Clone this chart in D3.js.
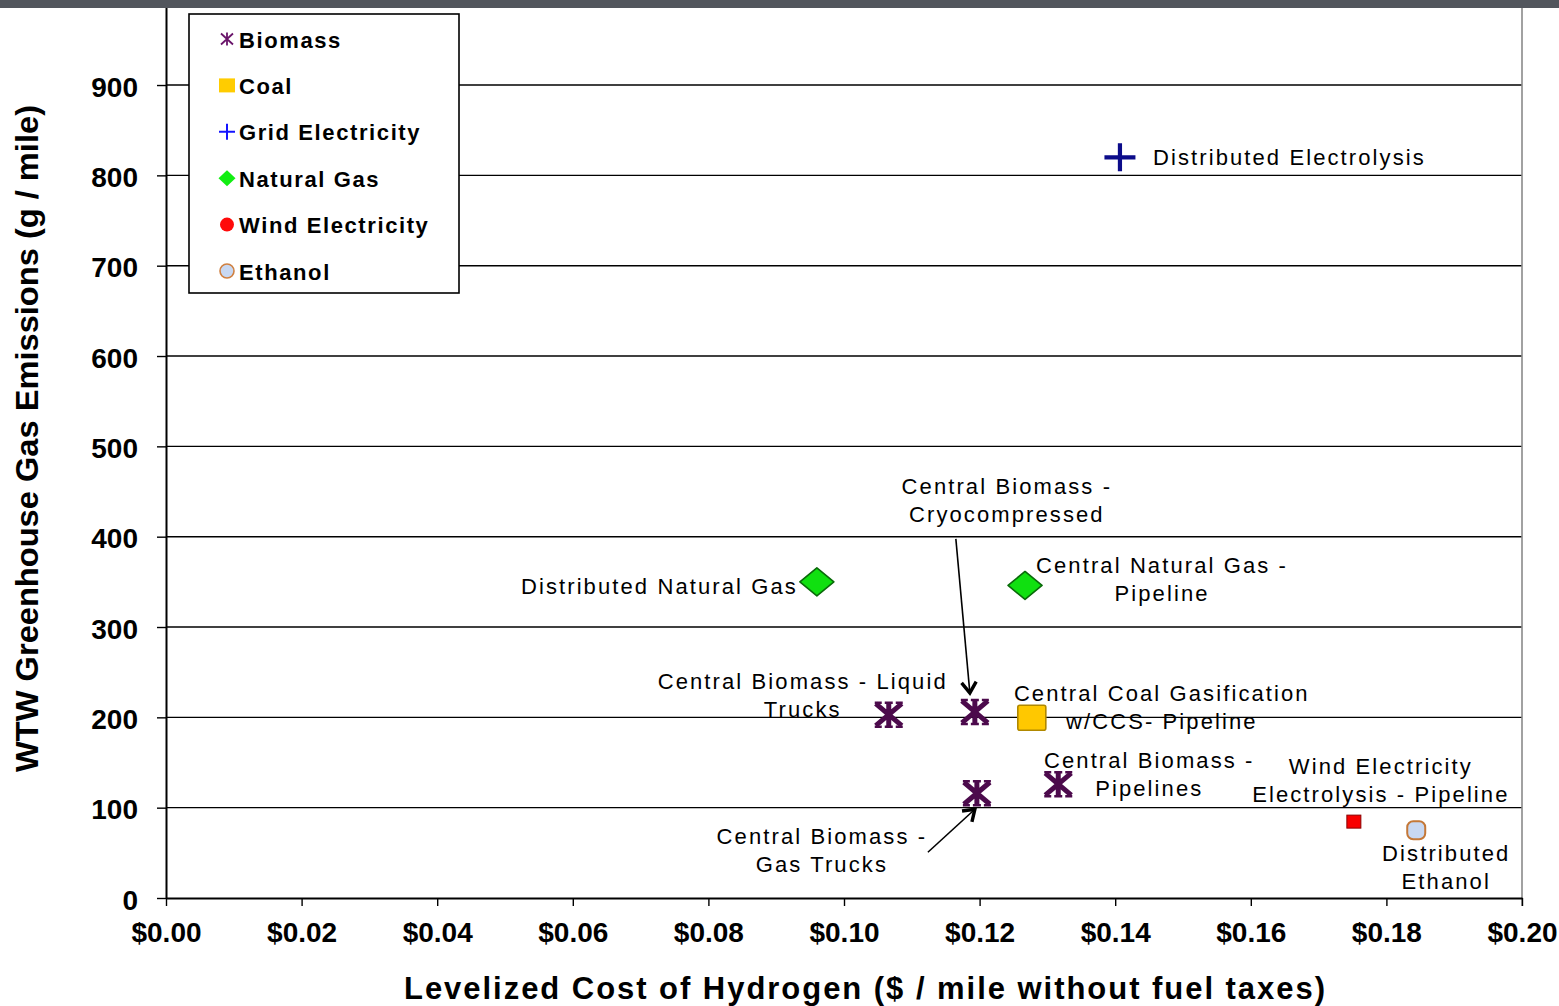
<!DOCTYPE html>
<html>
<head>
<meta charset="utf-8">
<script src="https://cdn.jsdelivr.net/npm/d3@7"></script>
<style>
  body { margin: 0; background: #ffffff; }
  svg { display: block; }
</style>
</head>
<body>
<svg id="chart" width="1559" height="1006"></svg>
<script>
// ---- Data ----------------------------------------------------------------
const seriesNames = ["Biomass", "Coal", "Grid Electricity", "Natural Gas", "Wind Electricity", "Ethanol"];

const pathwayLabels = [
  "Distributed Electrolysis",
  "Distributed Natural Gas",
  "Central Natural Gas -\nPipeline",
  "Central Biomass -\nCryocompressed",
  "Central Biomass - Liquid\nTrucks",
  "Central Coal Gasification\nw/CCS- Pipeline",
  "Central Biomass -\nPipelines",
  "Central Biomass -\nGas Trucks",
  "Wind Electricity\nElectrolysis - Pipeline",
  "Distributed\nEthanol"
];
const pathwaySeries = [
  "Grid Electricity", "Natural Gas", "Natural Gas", "Biomass", "Biomass",
  "Coal", "Biomass", "Biomass", "Wind Electricity", "Ethanol"
];
// Levelized cost of hydrogen, $ / mile (without fuel taxes)
const pathwayCost = [0.1407, 0.0960, 0.1267, 0.1193, 0.1066, 0.1277, 0.1316, 0.1196, 0.1752, 0.1844];
// Well-to-wheels greenhouse gas emissions, g / mile
const pathwayGhg = [820, 350, 346, 206, 203, 199, 126, 116, 84, 75];

const xTickValues = [0, 0.02, 0.04, 0.06, 0.08, 0.10, 0.12, 0.14, 0.16, 0.18, 0.20];
const yTickValues = [0, 100, 200, 300, 400, 500, 600, 700, 800, 900];

// ---- Label placement (offsets from each point, in px) -------------------
const labelLayout = [
  { dx: 33,   dy: 8,    anchor: "start" },
  { dx: -19,  dy: 12,   anchor: "end" },
  { dx: 137,  dy: -12,  anchor: "middle" },
  { dx: 32,   dy: -218, anchor: "middle" },
  { dx: -86,  dy: -26,  anchor: "middle" },
  { dx: 130,  dy: -17,  anchor: "middle" },
  { dx: 91,   dy: -16,  anchor: "middle" },
  { dx: -155, dy: 51,   anchor: "middle" },
  { dx: 27,   dy: -48,  anchor: "middle" },
  { dx: 30,   dy: 31,   anchor: "middle" }
];
// Leader arrows: [pointIndex, start offset, tip offset]
const arrowLayout = [
  { i: 3, sx: -19, sy: -173, ex: -5, ey: -19 },
  { i: 7, sx: -49, sy: 59,   ex: -2, ey: 16 }
];

// ---- Setup ---------------------------------------------------------------
const W = 1559, H = 1006;
const FONT = '"Liberation Sans", Arial, Helvetica, sans-serif';
const svg = d3.select("#chart");

const x = d3.scaleLinear().domain([0, 0.20]).range([166, 1522]);
const y = d3.scaleLinear().domain([0, 1000]).range([898, -5.3]);

// Horizontal gridlines
svg.append("g").selectAll("line")
  .data(yTickValues.filter(v => v > 0))
  .join("line")
  .attr("x1", x(0)).attr("x2", x(0.20))
  .attr("y1", d => y(d)).attr("y2", d => y(d))
  .attr("stroke", "#000").attr("stroke-width", 1.4);

// Right frame edge
svg.append("line")
  .attr("x1", x(0.20)).attr("x2", x(0.20))
  .attr("y1", 0).attr("y2", y(0) + 8)
  .attr("stroke", "#8a8a8a").attr("stroke-width", 1.6);

// Y axis
const yAxis = svg.append("g")
  .attr("transform", `translate(${x(0)},0)`)
  .call(d3.axisLeft(y).tickValues(yTickValues).tickSize(9).tickSizeOuter(0));
yAxis.select(".domain").attr("stroke", "#000").attr("stroke-width", 2);
yAxis.selectAll(".tick line").attr("stroke", "#000").attr("stroke-width", 1.4);
yAxis.selectAll(".tick text")
  .attr("x", -28).attr("dy", 11)
  .attr("font-family", FONT).attr("font-size", 28).attr("font-weight", "bold")
  .attr("fill", "#000");

// X axis
const xAxis = svg.append("g")
  .attr("transform", `translate(0,${y(0)})`)
  .call(d3.axisBottom(x).tickValues(xTickValues).tickSize(8).tickSizeOuter(0)
    .tickFormat(d => "$" + d3.format(".2f")(d)));
xAxis.select(".domain").attr("stroke", "#000").attr("stroke-width", 2);
xAxis.selectAll(".tick line").attr("stroke", "#000").attr("stroke-width", 1.4);
xAxis.selectAll(".tick text")
  .attr("y", 44).attr("dy", 0)
  .attr("font-family", FONT).attr("font-size", 28).attr("font-weight", "bold")
  .attr("fill", "#000");

// Axis titles
svg.append("text")
  .attr("transform", "translate(38,438.5) rotate(-90)")
  .attr("text-anchor", "middle")
  .attr("font-family", FONT).attr("font-size", 32).attr("font-weight", "bold")
  .attr("textLength", 667).attr("lengthAdjust", "spacingAndGlyphs")
  .text("WTW Greenhouse Gas Emissions (g / mile)");

svg.append("text")
  .attr("x", 864.5).attr("y", 999)
  .attr("text-anchor", "middle")
  .attr("font-family", FONT).attr("font-size", 31).attr("font-weight", "bold")
  .attr("textLength", 921).attr("lengthAdjust", "spacing")
  .text("Levelized Cost of Hydrogen ($ / mile without fuel taxes)");

// ---- Marker shapes -------------------------------------------------------
function starPath(w, h) {
  const a = w / 2, b = h / 2;
  return `M${-a},${-b}L${a},${b}M${-a},${b}L${a},${-b}M0,${-b - 1}L0,${b + 1}`;
}
function plusPath(w, h) {
  return `M${-w / 2},0L${w / 2},0M0,${-h / 2}L0,${h / 2}`;
}
function diamondPath(w, h) {
  return `M0,${-h / 2}L${w / 2},0L0,${h / 2}L${-w / 2},0Z`;
}

function drawMarker(g, series, big) {
  switch (series) {
    case "Biomass":
      if (big) {
        g.append("path").attr("d", starPath(26, 22))
          .attr("stroke", "#4c0a4c").attr("stroke-width", 5).attr("fill", "none")
          .attr("stroke-linecap", "butt");
        g.append("path").attr("d", "M-14,-12L-7,-12M7,-12L14,-12M-14,12L-7,12M7,12L14,12M-4,-12L4,-12M-4,12L4,12")
          .attr("stroke", "#4c0a4c").attr("stroke-width", 2.5);
      } else {
        g.append("path").attr("d", starPath(12, 11))
          .attr("stroke", "#6a156a").attr("stroke-width", 1.8).attr("fill", "none");
      }
      break;
    case "Coal":
      if (big) {
        g.append("rect").attr("x", -14).attr("y", -13).attr("width", 28).attr("height", 25)
          .attr("rx", 2).attr("fill", "#ffc800").attr("stroke", "#b08800").attr("stroke-width", 1.6);
      } else {
        g.append("rect").attr("x", -8).attr("y", -7).attr("width", 16).attr("height", 14)
          .attr("fill", "#ffcc00");
      }
      break;
    case "Grid Electricity":
      if (big) {
        g.append("path").attr("d", plusPath(31, 28))
          .attr("stroke", "#0c0c8a").attr("stroke-width", 4.2);
      } else {
        g.append("path").attr("d", plusPath(16, 16))
          .attr("stroke", "#1414ff").attr("stroke-width", 2);
      }
      break;
    case "Natural Gas":
      if (big) {
        g.append("path").attr("d", diamondPath(34, 28))
          .attr("fill", "#10e010").attr("stroke", "#0a6a0a").attr("stroke-width", 1.6)
          .attr("stroke-linejoin", "round");
      } else {
        g.append("path").attr("d", diamondPath(17, 16)).attr("fill", "#12ee12");
      }
      break;
    case "Wind Electricity":
      if (big) {
        g.append("rect").attr("x", -7).attr("y", -7).attr("width", 14).attr("height", 13)
          .attr("fill", "#f80000").attr("stroke", "#8a0000").attr("stroke-width", 1);
      } else {
        g.append("circle").attr("r", 7).attr("fill", "#ff0a0a");
      }
      break;
    case "Ethanol":
      if (big) {
        g.append("rect").attr("x", -9).attr("y", -9).attr("width", 18).attr("height", 18)
          .attr("rx", 6).attr("fill", "#c8d8f2").attr("stroke", "#c47838").attr("stroke-width", 2);
      } else {
        g.append("circle").attr("r", 7).attr("fill", "#c8d8f2")
          .attr("stroke", "#d08040").attr("stroke-width", 1.6);
      }
      break;
  }
}

// ---- Legend --------------------------------------------------------------
const legend = svg.append("g");
legend.append("rect")
  .attr("x", 189).attr("y", 14).attr("width", 270).attr("height", 279)
  .attr("fill", "#fff").attr("stroke", "#000").attr("stroke-width", 1.6);

const legendStep = d3.scalePoint().domain(seriesNames).range([40, 272]);
seriesNames.forEach(name => {
  const cy = legendStep(name);
  const mg = legend.append("g").attr("transform", `translate(227,${cy - 1})`);
  drawMarker(mg, name, false);
  legend.append("text")
    .attr("x", 239).attr("y", cy + 7.5)
    .attr("font-family", FONT).attr("font-size", 22).attr("font-weight", "bold")
    .attr("letter-spacing", 1.6).attr("fill", "#000")
    .text(name);
});

// ---- Points --------------------------------------------------------------
const points = pathwayLabels.map((label, i) => ({
  label, series: pathwaySeries[i], cost: pathwayCost[i], ghg: pathwayGhg[i],
  px: x(pathwayCost[i]), py: y(pathwayGhg[i])
}));

const markG = svg.append("g");
points.forEach(p => {
  const g = markG.append("g").attr("transform", `translate(${p.px},${p.py})`);
  drawMarker(g, p.series, true);
});

// ---- Labels --------------------------------------------------------------
const labelG = svg.append("g");
points.forEach((p, i) => {
  const L = labelLayout[i];
  const t = labelG.append("text")
    .attr("text-anchor", L.anchor)
    .attr("font-family", FONT).attr("font-size", 22)
    .attr("letter-spacing", 2.1).attr("fill", "#000");
  p.label.split("\n").forEach((line, k) => {
    t.append("tspan")
      .attr("x", p.px + L.dx)
      .attr("y", p.py + L.dy + k * 28)
      .text(line);
  });
});

// ---- Leader arrows -------------------------------------------------------
arrowLayout.forEach(a => {
  const p = points[a.i];
  const x1 = p.px + a.sx, y1 = p.py + a.sy;
  const x2 = p.px + a.ex, y2 = p.py + a.ey;
  svg.append("line")
    .attr("x1", x1).attr("y1", y1).attr("x2", x2).attr("y2", y2)
    .attr("stroke", "#000").attr("stroke-width", 1.6);
  const ang = Math.atan2(y2 - y1, x2 - x1);
  const len = 13, spread = 0.6;
  const h1 = [x2 - len * Math.cos(ang - spread), y2 - len * Math.sin(ang - spread)];
  const h2 = [x2 - len * Math.cos(ang + spread), y2 - len * Math.sin(ang + spread)];
  svg.append("path")
    .attr("d", `M${h1[0]},${h1[1]}L${x2},${y2}L${h2[0]},${h2[1]}`)
    .attr("fill", "none").attr("stroke", "#000").attr("stroke-width", 3.4)
    .attr("stroke-linejoin", "miter");
});

// ---- Top band ------------------------------------------------------------
svg.append("rect").attr("x", 0).attr("y", 0).attr("width", W).attr("height", 8)
  .attr("fill", "#52565d");
</script>
</body>
</html>
